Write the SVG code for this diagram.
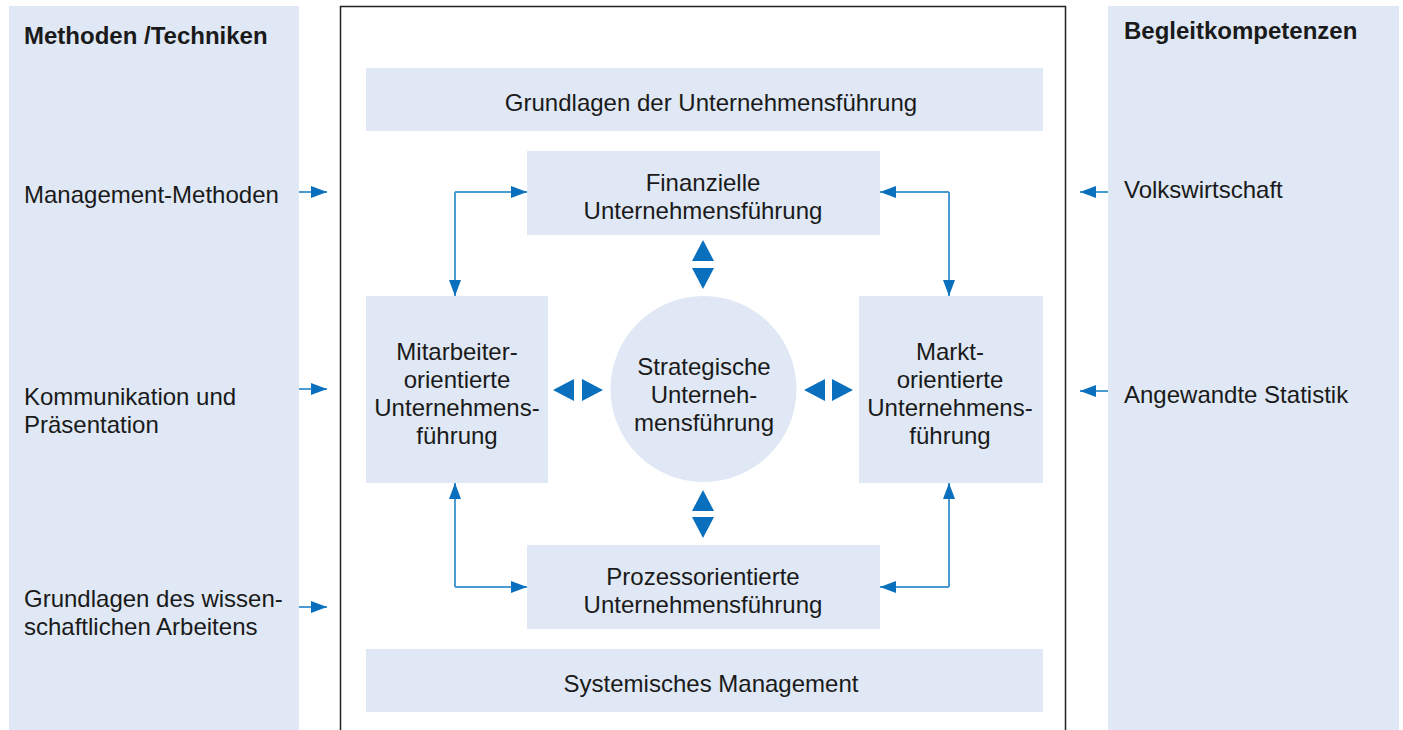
<svg xmlns="http://www.w3.org/2000/svg" width="1403" height="730" viewBox="0 0 1403 730">
<style>
.box{fill:#dfe8f4}
.t{font-family:"Liberation Sans",Arial,sans-serif;font-size:24px;fill:#1a1a1a}
.c{text-anchor:middle}
.b{font-weight:bold}
.ln{fill:none;stroke:#4a9ad4;stroke-width:2}
.ah{fill:#0a6fbd}
</style>
<defs>
<marker id="arr" markerWidth="16" markerHeight="12" refX="16" refY="6" orient="auto" markerUnits="userSpaceOnUse">
<path d="M0,0 L16,6 L0,12 Z" class="ah"/>
</marker>
</defs>
<rect width="1403" height="730" fill="#fff"/>
<g id="left-panel">
<rect class="box" x="9" y="6" width="290" height="724"/>
<text class="t b" x="24" y="44">Methoden /Techniken</text>
<text class="t" x="24" y="203">Management-Methoden</text>
<text class="t" x="24" y="405">Kommunikation und</text>
<text class="t" x="24" y="433">Präsentation</text>
<text class="t" x="24" y="607">Grundlagen des wissen-</text>
<text class="t" x="24" y="635">schaftlichen Arbeitens</text>
</g>
<g id="right-panel">
<rect class="box" x="1108" y="6" width="291" height="724"/>
<text class="t b" x="1124" y="39">Begleitkompetenzen</text>
<text class="t" x="1124" y="198">Volkswirtschaft</text>
<text class="t" x="1124" y="403">Angewandte Statistik</text>
</g>
<g id="frame">
<path d="M340.5,730 V6.5 H1065.5 V730" fill="none" stroke="#222" stroke-width="1.5"/>
</g>
<g id="grundlagen">
<rect class="box" x="366" y="68" width="677" height="63"/>
<text class="t c" x="711" y="111">Grundlagen der Unternehmensführung</text>
</g>
<g id="systemisches">
<rect class="box" x="366" y="649" width="677" height="63"/>
<text class="t c" x="711" y="692">Systemisches Management</text>
</g>
<g id="finanzielle">
<rect class="box" x="527" y="151" width="353" height="84"/>
<text class="t c" x="703" y="191">Finanzielle</text>
<text class="t c" x="703" y="219">Unternehmensführung</text>
</g>
<g id="prozess">
<rect class="box" x="527" y="545" width="353" height="84"/>
<text class="t c" x="703" y="585">Prozessorientierte</text>
<text class="t c" x="703" y="613">Unternehmensführung</text>
</g>
<g id="mitarbeiter">
<rect class="box" x="366" y="296" width="182" height="187"/>
<text class="t c" x="457" y="360">Mitarbeiter-</text>
<text class="t c" x="457" y="388">orientierte</text>
<text class="t c" x="457" y="416">Unternehmens-</text>
<text class="t c" x="457" y="444">führung</text>
</g>
<g id="markt">
<rect class="box" x="859" y="296" width="184" height="187"/>
<text class="t c" x="950" y="360">Markt-</text>
<text class="t c" x="950" y="388">orientierte</text>
<text class="t c" x="950" y="416">Unternehmens-</text>
<text class="t c" x="950" y="444">führung</text>
</g>
<g id="strategische">
<circle class="box" cx="703.5" cy="389" r="93"/>
<text class="t c" x="704" y="375">Strategische</text>
<text class="t c" x="704" y="403">Unterneh-</text>
<text class="t c" x="704" y="431">mensführung</text>
</g>
<g id="connectors">
<path class="ln" d="M299,192 H327" marker-end="url(#arr)"/>
<path class="ln" d="M299,389 H327" marker-end="url(#arr)"/>
<path class="ln" d="M299,607 H327" marker-end="url(#arr)"/>
<path class="ln" d="M1108,192 H1080" marker-end="url(#arr)"/>
<path class="ln" d="M1108,391 H1080" marker-end="url(#arr)"/>
<path class="ln" d="M455,192 H527" marker-end="url(#arr)"/>
<path class="ln" d="M455,192 V296" marker-end="url(#arr)"/>
<path class="ln" d="M949,192 H880" marker-end="url(#arr)"/>
<path class="ln" d="M949,192 V296" marker-end="url(#arr)"/>
<path class="ln" d="M455,587 H527" marker-end="url(#arr)"/>
<path class="ln" d="M455,587 V483" marker-end="url(#arr)"/>
<path class="ln" d="M949,587 H880" marker-end="url(#arr)"/>
<path class="ln" d="M949,587 V483" marker-end="url(#arr)"/>
<g class="ah">
<path d="M703,240 L714,261 L692,261 Z"/>
<path d="M703,289 L714,268 L692,268 Z"/>
<path d="M703,490 L714,511 L692,511 Z"/>
<path d="M703,538 L714,517 L692,517 Z"/>
<path d="M553,390 L574,379 L574,401 Z"/>
<path d="M603,390 L582,379 L582,401 Z"/>
<path d="M804,390 L825,379 L825,401 Z"/>
<path d="M853,390 L832,379 L832,401 Z"/>
</g>
</g>
</svg>
